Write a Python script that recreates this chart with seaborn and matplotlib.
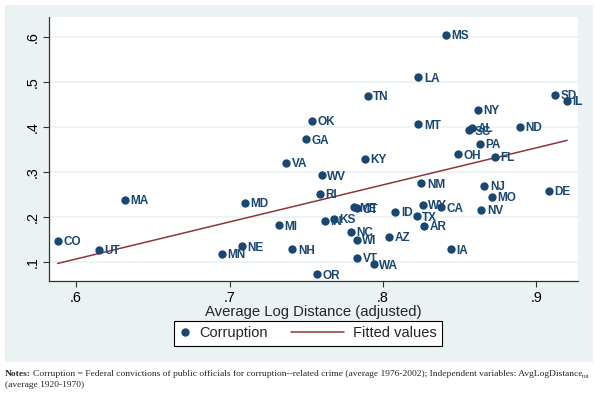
# import libraries
import pandas as pd
import numpy as np
import matplotlib
matplotlib.use('Agg')
import matplotlib.pyplot as plt
import seaborn as sns
from matplotlib.lines import Line2D
from matplotlib.legend_handler import HandlerLine2D

# state data
states = ['MS', 'LA', 'TN', 'SD', 'IL', 'NY', 'OK', 'MT', 'AL', 'SC', 'ND', 'GA',
          'PA', 'OH', 'FL', 'KY', 'VA', 'WV', 'NM', 'NJ', 'DE', 'RI', 'MO', 'ME',
          'CT', 'WY', 'CA', 'NV', 'ID', 'TX', 'IN', 'KS', 'AR', 'NC', 'WI', 'AZ',
          'IA', 'NH', 'VT', 'WA', 'OR', 'MA', 'MD', 'CO', 'UT', 'MN', 'NE', 'MI']
log_distance = [0.841, 0.823, 0.790, 0.912, 0.920, 0.862, 0.754, 0.823, 0.858, 0.856, 0.889, 0.750,
                0.863, 0.849, 0.873, 0.788, 0.737, 0.760, 0.825, 0.866, 0.908, 0.759, 0.871, 0.781,
                0.783, 0.826, 0.838, 0.864, 0.808, 0.822, 0.762, 0.768, 0.827, 0.779, 0.783, 0.804,
                0.844, 0.741, 0.783, 0.794, 0.757, 0.632, 0.710, 0.588, 0.615, 0.695, 0.708, 0.732]
corruption = [0.604, 0.510, 0.469, 0.471, 0.458, 0.438, 0.413, 0.406, 0.398, 0.393, 0.401, 0.373,
              0.362, 0.339, 0.334, 0.329, 0.320, 0.293, 0.275, 0.270, 0.258, 0.251, 0.245, 0.222,
              0.219, 0.227, 0.222, 0.216, 0.211, 0.202, 0.191, 0.196, 0.181, 0.167, 0.149, 0.156,
              0.128, 0.128, 0.110, 0.095, 0.073, 0.238, 0.232, 0.147, 0.127, 0.118, 0.135, 0.182]

x_ticks = [0.6, 0.7, 0.8, 0.9]
y_ticks = [0.1, 0.2, 0.3, 0.4, 0.5, 0.6]

df = pd.DataFrame({'state': states, 'dist': log_distance, 'corr': corruption})

# stata s2color look
navy = '#1a476f'
maroon = '#90353b'
bg = '#eaf2f3'

sns.set_theme(style='white')
plt.rcParams['font.family'] = ['Liberation Sans', 'DejaVu Sans']

fig = plt.figure(figsize=(6, 3.97), dpi=100)
fig.patch.set_facecolor('white')
# light outer region
fig.patches.append(plt.Rectangle((5 / 600, 1 - 362 / 397), 588 / 600, 357 / 397,
                                 transform=fig.transFigure, facecolor=bg,
                                 edgecolor='none', zorder=-5))

ax = fig.add_axes([0.0817, 0.292, 0.881, 0.665])
ax.set_facecolor('white')

sns.scatterplot(data=df, x='dist', y='corr', color=navy, s=36, edgecolor=navy,
                linewidth=0, ax=ax, zorder=3)
sns.regplot(data=df, x='dist', y='corr', scatter=False, ci=None, ax=ax,
            line_kws={'color': maroon, 'linewidth': 1.1, 'zorder': 2})

# state labels
for st, xv, yv in zip(states, log_distance, corruption):
    ax.annotate(st, (xv, yv), xytext=(4, -1), textcoords='offset points',
                va='center', ha='left', fontsize=8.5, fontweight='bold', color=navy, zorder=4)

ax.set_xlim(0.5824, 0.9268)
ax.set_ylim(0.0578, 0.644)
ax.set_xticks(x_ticks)
ax.set_xticklabels(['.6', '.7', '.8', '.9'])
ax.set_yticks(y_ticks)
ax.set_yticklabels(['.1', '.2', '.3', '.4', '.5', '.6'], rotation=90, va='center')
ax.tick_params(axis='both', direction='out', length=4, width=0.8, color='#333333',
               labelsize=10.3, labelcolor='black', bottom=True, left=True, pad=3)
ax.yaxis.grid(True, color=bg, linewidth=1.2)
ax.xaxis.grid(False)
ax.set_axisbelow(True)
for side in ['top', 'right']:
    ax.spines[side].set_visible(False)
for side in ['left', 'bottom']:
    ax.spines[side].set_color('#333333')
    ax.spines[side].set_linewidth(0.9)

ax.set_xlabel('Average Log Distance (adjusted)', fontsize=10.7, labelpad=0)
ax.set_ylabel(None)


# short handle for the dot, longer line reaching left for the fit
class LongLineHandler(HandlerLine2D):
    def create_artists(self, legend, orig_handle, xdescent, ydescent, width, height,
                       fontsize, trans):
        y = height / 2 - ydescent
        extra = 2.8 * fontsize
        line = Line2D([-xdescent - extra, -xdescent + width], [y, y],
                      color=orig_handle.get_color(), linewidth=orig_handle.get_linewidth())
        line.set_transform(trans)
        return [line]


dot_handle = Line2D([], [], marker='o', linestyle='none', color=navy, markersize=5)
fit_handle = Line2D([], [], color=maroon, linewidth=1.1)
leg = fig.legend([dot_handle, fit_handle], ['Corruption', 'Fitted values'], loc='center',
                 bbox_to_anchor=(0.513, 0.16), ncol=2, fontsize=10.5, frameon=True,
                 fancybox=False, handlelength=0.8, handletextpad=0.6,
                 columnspacing=4.4, borderpad=0.35,
                 handler_map={fit_handle: LongLineHandler()})
leg.get_frame().set_edgecolor('black')
leg.get_frame().set_facecolor('white')
leg.get_frame().set_alpha(1)
leg.get_frame().set_linewidth(0.8)

# notes under the chart
serif = ['Liberation Serif', 'DejaVu Serif']
y1 = 1 - 376 / 397
t0 = fig.text(5 / 600, y1, 'Notes:', fontsize=6.8, family=serif, fontweight='bold', va='baseline')
renderer = fig.canvas.get_renderer()
bb = t0.get_window_extent(renderer).transformed(fig.transFigure.inverted())
t1 = fig.text(bb.x1 + 2 / 600, y1,
              'Corruption = Federal convictions of public officials for corruption--related crime '
              '(average 1976-2002); Independent variables: AvgLogDistance',
              fontsize=6.8, family=serif, va='baseline')
bb1 = t1.get_window_extent(renderer).transformed(fig.transFigure.inverted())
fig.text(bb1.x1, y1 - 2 / 397, 'tot', fontsize=4.5, family=serif, va='baseline')
fig.text(5 / 600, 1 - 387 / 397, '(average 1920-1970)', fontsize=6.8,
         family=serif, va='baseline')

fig.savefig('out.png', dpi=100)
